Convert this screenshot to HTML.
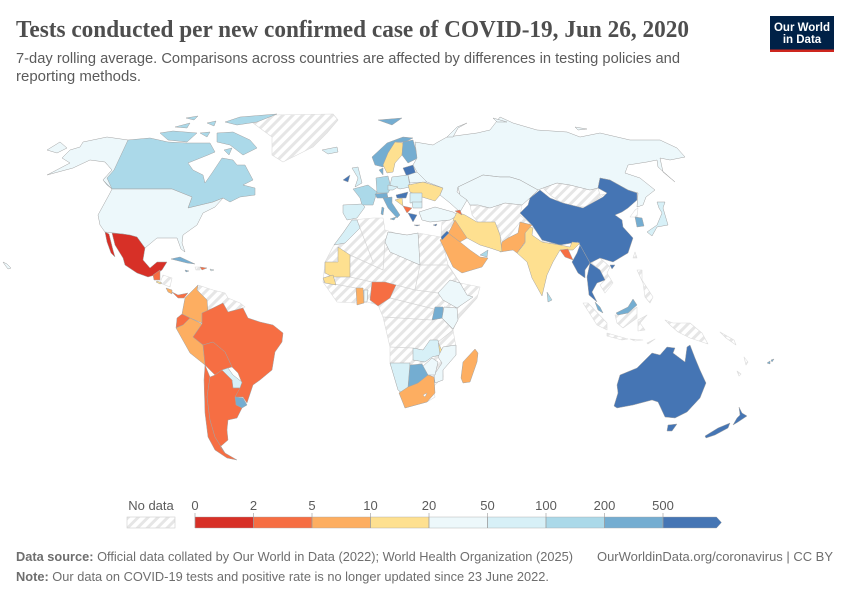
<!DOCTYPE html>
<html lang="en">
<head>
<meta charset="utf-8">
<title>Tests conducted per new confirmed case of COVID-19</title>
<style>
html,body{margin:0;padding:0;background:#fff;width:850px;height:600px;overflow:hidden}
svg{display:block}
text{font-family:"Liberation Sans",sans-serif}
</style>
</head>
<body>
<svg id="chart" xmlns="http://www.w3.org/2000/svg" width="850" height="600" viewBox="0 0 850 600">
  <defs>
    <pattern id="hatch" patternUnits="userSpaceOnUse" width="7" height="7" patternTransform="rotate(-45)">
      <rect width="7" height="7" fill="#fff"/>
      <rect width="7" height="3" fill="#e6e6e6"/>
    </pattern>
  </defs>
  <text x="16" y="37" font-size="24" font-weight="bold" fill="#4e4e4e" style="font-family:'Liberation Serif',serif" textLength="673" lengthAdjust="spacingAndGlyphs">Tests conducted per new confirmed case of COVID-19, Jun 26, 2020</text>
  <text x="16" y="63" font-size="14.5" fill="#5b5b5b" textLength="664" lengthAdjust="spacingAndGlyphs">7-day rolling average. Comparisons across countries are affected by differences in testing policies and</text>
  <text x="16" y="81" font-size="14.5" fill="#5b5b5b" textLength="125" lengthAdjust="spacingAndGlyphs">reporting methods.</text>

  <g>
    <rect x="770" y="16" width="64" height="36" fill="#002147"/>
    <rect x="770" y="49.5" width="64" height="2.5" fill="#ce261e"/>
    <text x="802" y="31" font-size="11.5" font-weight="bold" fill="#fff" text-anchor="middle">Our World</text>
    <text x="802" y="43" font-size="11.5" font-weight="bold" fill="#fff" text-anchor="middle">in Data</text>
  </g>

  <g id="map"></g>
  <g id="legend"></g>

  <text x="16" y="561" font-size="13" fill="#6e6e6e" textLength="557" lengthAdjust="spacingAndGlyphs"><tspan font-weight="bold">Data source:</tspan> Official data collated by Our World in Data (2022); World Health Organization (2025)</text>
  <text x="597" y="561" font-size="13" fill="#6e6e6e" textLength="236" lengthAdjust="spacingAndGlyphs">OurWorldinData.org/coronavirus | CC BY</text>
  <text x="16" y="581" font-size="13" fill="#6e6e6e" textLength="533" lengthAdjust="spacingAndGlyphs"><tspan font-weight="bold">Note:</tspan> Our data on COVID-19 tests and positive rate is no longer updated since 23 June 2022.</text>
</svg>

<script>
// ---- data ----
var binTicks = [0, 2, 5, 10, 20, 50, 100, 200, 500];
var binColors = ['#d73027', '#f66e43', '#fdae61', '#fee090', '#edf8fb', '#d7f0f7', '#abd9e9', '#74add1', '#4575b4'];
var noDataLabel = 'No data';

var countryNames = ['Canada','Alaska','USA','Mexico','Guatemala','El Salvador','Costa Rica','Panama','Colombia','Ecuador','Peru','Brazil','Bolivia','Paraguay','Uruguay','Chile','Argentina','Cuba','Dominican Republic','Jamaica','Puerto Rico','Iceland','Svalbard','Norway','Sweden','Finland','Baltics','Denmark','Ireland','UK','France','Spain','Germany','Poland','Czechia','Belarus','Ukraine','Hungary','Austria','Italy','Sicily','Sardinia','Romania','Bosnia','Serbia','Greece','Bulgaria','Turkey','Russia','Novaya Zemlya','Arctic Russia','Kazakhstan','China','Hainan','Myanmar','Thailand','Malaysia Peninsula','Malaysia Borneo','Sri Lanka','Japan','South Korea','India','Bangladesh','Pakistan','Iran','Iraq','Saudi Arabia','UAE','Jordan','Armenia','Morocco','Libya','Mauritania','Senegal','Ghana','Togo','Nigeria','Ethiopia','Uganda','Kenya','Malawi','Zambia','Mozambique','Zimbabwe','Botswana','Namibia','South Africa','Madagascar','Australia','Tasmania','New Zealand North','New Zealand South','Fiji','Crete','Cyprus'];
var countryValues = [150,35,35,1.2,3,15,8,4,7,3.5,8,3,3.5,80,300,4,4,300,3.5,250,60,60,300,300,15,300,900,300,700,70,150,80,160,70,60,40,15,800,300,300,300,300,80,15,4,600,70,40,40,40,40,40,1000,1000,1000,1000,300,300,150,80,300,15,3.5,8,15,8,8,150,900,4,70,30,15,15,8,30,3.5,30,300,30,15,70,30,30,300,70,8,8,1000,1000,1000,1000,300,800,800];

var countryShapes = {
 'Canada':['105,162 128,140 150,138 168,142 187,143 210,143 215,152 208,155 188,163 193,170 203,175 205,183 212,173 222,158 233,160 237,165 245,165 253,180 243,185 255,188 255,195 240,197 230,202 223,198 213,202 188,208 192,197 172,189 112,189 107,185 103,180 112,170','217,142 217,133 233,132 250,140 257,148 243,155 230,145','225,122 240,117 277,114 257,122 237,125','160,133 173,131 197,133 187,142 168,140','175,127 190,123 187,128','200,133 210,132 207,137','207,123 216,121 214,126','186,118 198,116 194,120','224,150 232,148 229,155'],
 'Alaska':['128,140 107,137 83,142 80,147 70,150 62,158 70,163 47,175 73,168 90,160 105,162 112,170 103,180 110,187 112,189 107,178 114,170','47,150 60,142 67,148 57,153','3,262 7,264 11,268 8,269 5,265'],
 'USA':['112,189 172,189 192,197 188,208 213,202 223,198 215,207 203,213 197,225 183,235 182,243 185,252 181,249 177,238 157,238 145,248 137,237 123,234 105,232 100,225 98,215 110,193'],
 'Mexico':['112,233 123,234 130,235 137,237 145,248 143,260 150,268 157,262 167,262 162,270 155,275 148,277 137,273 125,265 123,258 115,245','105,232 109,234 113,250 115,257 111,253 107,242'],
 'Guatemala':['153,275 160,270 160,280 154,280'],
 'El Salvador':['157,281 162,283 160,284 156,282'],
 'Costa Rica':['166,288 172,290 172,294 168,292'],
 'Panama':['172,292 178,295 188,293 184,298 178,298'],
 'Colombia':['198,285 185,298 182,314 190,318 202,323 202,313 208,313 207,300 197,290'],
 'Ecuador':['177,318 182,314 190,318 183,325 176,328'],
 'Peru':['176,328 183,325 190,318 202,324 193,337 203,345 205,365 190,353'],
 'Brazil':['202,313 215,307 223,303 228,312 243,308 248,318 260,322 273,325 283,333 282,342 275,352 272,370 260,380 253,385 247,403 243,397 235,397 242,383 238,373 232,367 225,352 213,342 203,345 193,337 202,324'],
 'Bolivia':['203,345 213,342 225,352 232,367 228,368 222,370 215,375 205,365'],
 'Paraguay':['222,370 228,368 233,375 242,382 240,388 233,388 232,380'],
 'Uruguay':['235,397 243,398 247,405 242,408 236,405'],
 'Chile':['205,365 210,377 207,397 210,420 215,437 225,453 237,460 227,458 215,450 208,437 205,413 204,380'],
 'Argentina':['215,375 222,370 232,380 233,388 240,388 235,397 236,405 242,408 237,418 228,420 227,430 228,440 220,447 225,453 215,437 210,420 207,397 210,377'],
 'Cuba':['171,259 180,257 195,264 187,263'],
 'Dominican Republic':['200,267 207,268 202,270'],
 'Jamaica':['185,270 189,271 186,272'],
 'Puerto Rico':['210,269 214,270 211,271'],
 'Iceland':['322,150 337,147 338,152 328,154'],
 'Svalbard':['378,120 402,118 392,125'],
 'Norway':['372,157 387,143 403,137 413,138 405,142 395,142 388,153 383,167 375,165'],
 'Sweden':['395,142 403,143 402,155 395,163 393,172 387,173 383,165 388,153'],
 'Finland':['403,142 413,140 418,158 408,163 402,155'],
 'Baltics':['403,168 413,165 417,177 407,177'],
 'Denmark':['379,170 383,168 383,175'],
 'Ireland':['343,180 350,175 348,182'],
 'UK':['352,168 358,167 362,183 355,187 358,178'],
 'France':['353,189 368,185 377,192 373,205 362,205 360,198'],
 'Spain':['343,205 362,204 365,207 357,218 347,220 343,213'],
 'Germany':['376,178 388,176 391,188 388,193 377,193'],
 'Poland':['392,177 408,175 410,187 400,189 390,185'],
 'Czechia':['388,185 398,187 393,190 388,190'],
 'Belarus':['408,175 417,172 427,182 410,183'],
 'Ukraine':['408,185 423,182 443,188 440,195 435,201 422,197 410,192'],
 'Hungary':['396,195 408,192 406,198 397,198'],
 'Austria':['375,194 387,193 388,198 377,198'],
 'Italy':['383,198 392,197 392,203 400,215 397,218 388,208'],
 'Sicily':['390,219 396,217 394,220'],
 'Sardinia':['382,207 384,208 383,215 381,214'],
 'Romania':['410,193 422,193 422,202 410,203'],
 'Bosnia':['395,200 402,198 403,206'],
 'Serbia':['403,206 412,208 407,213'],
 'Greece':['408,213 417,215 413,222'],
 'Bulgaria':['412,202 422,202 422,208 413,208'],
 'Turkey':['419,212 435,207 453,212 458,215 450,220 430,222 422,220'],
 'Russia':['415,142 433,145 438,142 447,137 477,133 490,130 500,117 513,123 537,130 567,132 580,137 600,133 630,140 660,140 677,148 685,157 670,160 660,158 663,172 675,182 658,167 657,160 647,162 628,165 625,173 640,178 655,190 646,197 643,205 637,207 638,193 628,190 610,180 600,178 598,188 590,190 570,185 557,183 543,188 538,190 520,180 510,177 500,177 483,175 458,187 457,192 467,200 460,212 450,203 440,195 443,188 427,182 417,172 413,165 417,158'],
 'Novaya Zemlya':['447,137 457,127 467,123 458,128 453,137'],
 'Arctic Russia':['493,118 507,122 497,122','575,127 587,129 578,130'],
 'Kazakhstan':['458,187 483,175 500,177 510,177 520,180 538,190 530,198 522,205 505,203 490,208 478,205 470,205 467,200 460,195'],
 'China':['520,213 528,205 530,198 540,190 550,198 563,203 583,208 603,197 607,193 598,188 600,178 610,180 628,190 637,193 637,200 628,208 622,212 615,215 622,220 623,227 633,238 628,253 613,262 600,258 590,263 580,245 578,242 560,245 542,240 532,225'],
 'Hainan':['610,265 615,265 612,269'],
 'Myanmar':['580,245 590,263 585,270 585,278 578,273 572,262 577,253'],
 'Thailand':['590,263 600,270 605,280 597,283 592,292 597,302 589,295 587,277'],
 'Malaysia Peninsula':['595,302 600,307 603,313 598,310'],
 'Malaysia Borneo':['616,313 628,307 633,299 637,305 628,313 618,315'],
 'Sri Lanka':['547,292 552,300 548,302'],
 'Japan':['657,202 665,202 663,208 668,225 657,227 652,236 647,232 657,225 662,213 659,208'],
 'South Korea':['635,217 642,218 644,226 637,227'],
 'India':['525,225 533,228 532,235 542,242 560,245 570,247 572,242 580,243 573,250 568,250 560,250 553,262 547,275 542,296 532,278 527,262 517,253 525,243 525,237'],
 'Bangladesh':['560,250 568,249 573,260 565,257'],
 'Pakistan':['520,222 532,225 525,233 525,242 517,253 513,250 500,252 502,242 508,238 518,233'],
 'Iran':['457,212 465,215 477,222 495,222 500,235 502,252 490,248 480,245 467,238 457,225 453,220'],
 'Iraq':['450,230 455,220 467,238 460,242 448,233'],
 'Saudi Arabia':['440,240 448,233 460,242 470,250 480,257 488,258 482,267 462,273 453,267'],
 'UAE':['480,255 488,250 487,257'],
 'Jordan':['441,237 447,231 449,233 442,240'],
 'Armenia':['455,211 460,210 462,215'],
 'Morocco':['334,245 343,233 352,220 357,220 360,228 345,243'],
 'Libya':['385,242 388,232 407,235 418,233 420,265 413,262 390,252'],
 'Mauritania':['325,262 338,262 338,247 350,255 350,277 333,277 325,273'],
 'Senegal':['323,278 333,275 336,285 325,283'],
 'Ghana':['356,288 363,288 364,303 357,305'],
 'Togo':['364,290 368,290 367,302 364,302'],
 'Nigeria':['372,282 385,282 396,285 390,298 378,306 370,300'],
 'Ethiopia':['450,280 460,283 467,295 473,297 457,308 443,300 438,293'],
 'Uganda':['435,307 443,307 443,318 432,320'],
 'Kenya':['444,307 457,308 458,320 453,329 442,318'],
 'Malawi':['438,342 443,353 444,360 440,357'],
 'Zambia':['430,340 438,340 440,355 432,357 425,362 413,360 413,348 423,350'],
 'Mozambique':['443,347 456,345 456,355 443,370 443,380 435,383 434,375 442,363 438,357'],
 'Zimbabwe':['422,367 432,358 438,362 435,375 428,375'],
 'Botswana':['410,365 422,364 428,375 418,383 408,387'],
 'Namibia':['390,363 410,363 408,387 402,393 398,390'],
 'South Africa':['408,387 418,383 428,375 434,377 435,393 427,402 405,408 399,393'],
 'Madagascar':['475,349 478,353 477,362 470,382 463,383 461,378 463,362'],
 'Australia':['667,347 675,348 673,353 685,362 687,347 690,345 695,358 700,370 706,383 700,398 687,412 675,418 665,417 658,402 652,400 633,405 617,408 614,406 618,393 617,385 620,375 637,368 652,353 660,355'],
 'Tasmania':['668,425 677,424 672,431 667,431'],
 'New Zealand North':['739,407 742,413 747,416 738,422 733,425 737,418 740,415'],
 'New Zealand South':['730,423 728,428 715,435 706,438 705,436 718,428'],
 'Fiji':['767,363 770,361 770,364','771,360 774,359 772,362'],
 'Crete':['414,225 420,225 417,226'],
 'Cyprus':['433,225 437,224 436,226']
};

var noDataRegions = {
 'Greenland':['253,123 273,115 333,114 338,120 327,133 313,147 283,162 272,155 272,137'],
 'Africa without data':['334,245 343,233 352,220 373,218 383,218 385,230 395,233 407,235 418,233 441,237 442,240 448,265 460,283 480,287 477,298 457,320 453,330 456,347 442,360 443,377 433,387 435,397 427,402 405,408 400,393 390,363 390,347 383,317 378,305 367,302 355,303 337,302 330,292 323,282 325,262'],
 'Venezuela and Guianas':['198,285 197,290 207,300 208,313 215,307 223,303 228,312 242,308 245,307 240,303 228,298 225,293 213,290'],
 'Honduras Nicaragua':['163,275 172,278 170,287 160,283'],
 'Haiti':['195,267 200,267 200,270 196,270'],
 'Central Asia':['470,205 490,208 505,203 522,205 520,215 532,225 520,222 508,238 502,242 497,225 478,222 472,215'],
 'Syria Lebanon':['442,222 455,218 452,230 447,231 441,236'],
 'Mongolia':['543,188 557,183 570,185 590,190 598,188 600,195 605,194 585,207 565,205 550,195'],
 'Indochina':['590,262 600,258 610,267 607,273 613,283 605,293 600,285 605,280 600,270'],
 'Nepal':['542,240 560,245 560,248 542,243'],
 'North Korea':['635,210 638,208 637,217 630,217'],
 'Taiwan':['635,252 637,258 633,258'],
 'Philippines':['637,270 642,270 642,280 653,297 650,303 645,297 643,283'],
 'Sumatra':['583,303 588,303 607,323 607,330 597,325'],
 'Kalimantan':['615,315 628,313 637,307 637,318 623,328 617,323'],
 'Sulawesi':['638,320 647,315 640,323 645,330 638,331'],
 'Java':['607,333 628,339 622,340 607,336'],
 'Lesser Sunda':['630,339 643,340 635,341','647,343 655,339 648,344'],
 'New Guinea':['665,320 673,323 690,323 702,333 708,344 690,338 678,332 670,325'],
 'Melanesia':['720,332 734,340 736,345 726,338','744,357 748,362 746,365','737,371 741,374 739,376']
};

var africaBorders = ['360,228 373,262','350,255 383,270','383,270 385,242','413,262 420,265 448,265','420,265 415,290 438,293','396,285 415,290','390,298 438,310','383,317 432,320','413,348 390,347','453,330 442,318','438,342 453,330','350,277 372,282','323,282 356,288','448,265 460,283'];

// ---- scales ----
var legendLeft = 195, legendRight = 721.5, legendTop = 517, legendHeight = 11;
function binIndex(v) {
  for (var i = binTicks.length - 1; i >= 0; i--) { if (v >= binTicks[i]) return i; }
  return 0;
}
function colorFor(v) {
  if (v === null || v === undefined) return 'url(#hatch)';
  return binColors[binIndex(v)];
}
function legendX(i) {
  return legendLeft + (legendRight - legendLeft) * i / binTicks.length;
}
function slug(s) { return s.toLowerCase().replace(/[^a-z0-9]+/g, '-'); }

var NS = 'http://www.w3.org/2000/svg';
var mapG = document.getElementById('map');
var legendG = document.getElementById('legend');

function polyD(points) { return 'M' + points.trim().split(/\s+/).join('L') + 'Z'; }

// ---- no-data regions (drawn first) ----
Object.keys(noDataRegions).forEach(function (name) {
  var p = document.createElementNS(NS, 'path');
  p.setAttribute('d', noDataRegions[name].map(polyD).join(''));
  p.setAttribute('fill', 'url(#hatch)');
  p.setAttribute('stroke', '#dcdcdc');
  p.setAttribute('stroke-width', '0.6');
  p.setAttribute('stroke-linejoin', 'round');
  
  
  mapG.appendChild(p);
});

africaBorders.forEach(function (pts) {
  var l = document.createElementNS(NS, 'path');
  l.setAttribute('d', 'M' + pts.split(' ').join('L'));
  l.setAttribute('fill', 'none');
  l.setAttribute('stroke', '#d5d5d5');
  l.setAttribute('stroke-width', '0.7');
  
  
  mapG.appendChild(l);
});

// ---- countries with data ----
countryNames.forEach(function (name, i) {
  var p = document.createElementNS(NS, 'path');
  p.setAttribute('d', countryShapes[name].map(polyD).join(''));
  p.setAttribute('fill', colorFor(countryValues[i]));
  p.setAttribute('stroke', '#a3a3a3');
  p.setAttribute('stroke-width', '0.5');
  p.setAttribute('stroke-linejoin', 'round');
  
  
  mapG.appendChild(p);
});

// lesotho hole
var lesotho = document.createElementNS(NS, 'path');
lesotho.setAttribute('d', polyD('423,395 427,393 425,397'));
lesotho.setAttribute('fill', '#fff');
lesotho.setAttribute('stroke', '#a3a3a3');
lesotho.setAttribute('stroke-width', '0.4');


mapG.appendChild(lesotho);

// ---- legend ----
var noDataBox = document.createElementNS(NS, 'rect');
noDataBox.setAttribute('x', 127);
noDataBox.setAttribute('y', legendTop);
noDataBox.setAttribute('width', 48);
noDataBox.setAttribute('height', legendHeight);
noDataBox.setAttribute('fill', 'url(#hatch)');
noDataBox.setAttribute('stroke', '#cfcfcf');
noDataBox.setAttribute('stroke-width', '0.6');


legendG.appendChild(noDataBox);

var noDataText = document.createElementNS(NS, 'text');
noDataText.setAttribute('x', 151);
noDataText.setAttribute('y', 510);
noDataText.setAttribute('font-size', '13');
noDataText.setAttribute('fill', '#5b5b5b');
noDataText.setAttribute('text-anchor', 'middle');


noDataText.textContent = noDataLabel;
legendG.appendChild(noDataText);

binColors.forEach(function (c, i) {
  var x0 = legendX(i), x1 = legendX(i + 1);
  var s = document.createElementNS(NS, 'path');
  if (i === binColors.length - 1) {
    s.setAttribute('d', 'M' + x0 + ',' + legendTop + 'L' + (x1 - 5) + ',' + legendTop + 'L' + x1 + ',' + (legendTop + legendHeight / 2) + 'L' + (x1 - 5) + ',' + (legendTop + legendHeight) + 'L' + x0 + ',' + (legendTop + legendHeight) + 'Z');
  } else {
    s.setAttribute('d', 'M' + x0 + ',' + legendTop + 'H' + x1 + 'V' + (legendTop + legendHeight) + 'H' + x0 + 'Z');
  }
  s.setAttribute('fill', c);
  s.setAttribute('stroke', '#a3a3a3');
  s.setAttribute('stroke-width', '0.4');
  
  
  legendG.appendChild(s);
});

binTicks.forEach(function (t, i) {
  var x = legendX(i);
  var tick = document.createElementNS(NS, 'line');
  tick.setAttribute('x1', x);
  tick.setAttribute('x2', x);
  tick.setAttribute('y1', legendTop - 4);
  tick.setAttribute('y2', legendTop + legendHeight);
  tick.setAttribute('stroke', '#999');
  tick.setAttribute('stroke-width', '0.6');
  
  
  legendG.appendChild(tick);

  var lab = document.createElementNS(NS, 'text');
  lab.setAttribute('x', x);
  lab.setAttribute('y', 510);
  lab.setAttribute('font-size', '13');
  lab.setAttribute('fill', '#5b5b5b');
  lab.setAttribute('text-anchor', 'middle');
  
  
  lab.textContent = String(t);
  legendG.appendChild(lab);
});
</script>
</body>
</html>
